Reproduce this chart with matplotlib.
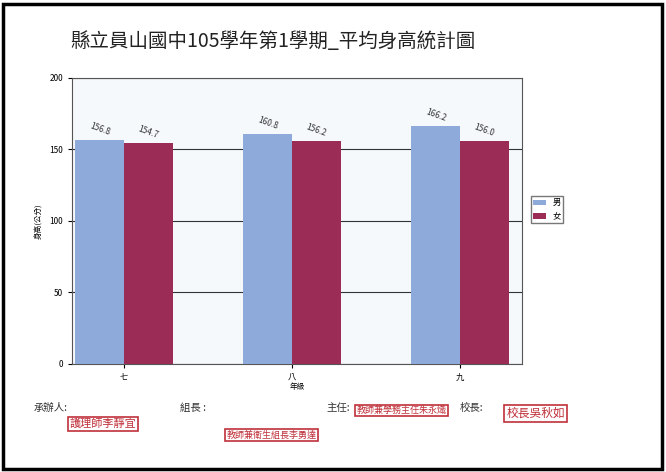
import matplotlib.pyplot as plt
import numpy as np
from matplotlib.patches import Rectangle

plt.rcParams['font.family'] = ['Noto Sans CJK TC', 'DejaVu Sans']

grades = ["七", "八", "九"]
boys = [156.8, 160.8, 166.2]
girls = [154.7, 156.2, 156.0]

fig = plt.figure(figsize=(6.66, 4.72), dpi=100)
fig.patch.set_facecolor("white")
fig.patches.append(Rectangle((0.004, 0.006), 0.99, 0.985, transform=fig.transFigure,
                             fill=False, edgecolor="black", linewidth=2.5))

ax = fig.add_axes([0.108, 0.229, 0.676, 0.606])
ax.set_facecolor("#f6f9fc")
x = np.arange(len(grades))
w = 0.29
b1 = ax.bar(x - w / 2, boys, w, color="#8eaadb", label="男", zorder=3)
b2 = ax.bar(x + w / 2, girls, w, color="#9b2c55", label="女", zorder=3)
for bars in (b1, b2):
    for r in bars:
        ax.text(r.get_x() + r.get_width() / 2, r.get_height() + 2, f"{r.get_height():.1f}",
                ha="center", va="bottom", fontsize=6, rotation=-20, color="#333")
ax.set_xlim(-0.31, 2.37)
ax.set_ylim(0, 200)
ax.set_yticks([0, 50, 100, 150, 200])
ax.yaxis.grid(True, color="#333", linewidth=0.8, zorder=0)
ax.set_xticks(x)
ax.set_xticklabels(grades, fontsize=7)
ax.tick_params(labelsize=6, length=3)
ax.set_ylabel("身高(公分)", fontsize=5.5)
ax.set_xlabel("年級", fontsize=5.5, labelpad=1)
for s in ax.spines.values():
    s.set_color("#555")
ax.legend(loc="center left", bbox_to_anchor=(1.01, 0.54), fontsize=6, frameon=True,
          edgecolor="#555", fancybox=False, handlelength=1.5, borderpad=0.3)

fig.text(0.105, 0.9, "縣立員山國中105學年第1學期_平均身高統計圖", fontsize=14, color="#222")

# signatures
sig = [(0.05, 0.13, "承辦人:"), (0.27, 0.13, "組長 :"), (0.49, 0.13, "主任:"), (0.69, 0.13, "校長:")]
for sx, sy, t in sig:
    fig.text(sx, sy, t, fontsize=7.5, color="#333")
stamp = dict(boxstyle="square,pad=0.15", fc="white", ec="#c0303a", lw=1.2)
fig.text(0.105, 0.095, "護理師李靜宜", fontsize=8, color="#c0303a", bbox=stamp)
fig.text(0.34, 0.073, "教師兼衛生組長李勇達", fontsize=6.5, color="#c0303a", bbox=stamp)
fig.text(0.535, 0.125, "教師兼學務主任朱永熾", fontsize=6.5, color="#c0303a", bbox=stamp)
fig.text(0.76, 0.117, "校長吳秋如", fontsize=8.5, color="#c0303a", bbox=stamp)

fig.savefig("out.png", dpi=100)
